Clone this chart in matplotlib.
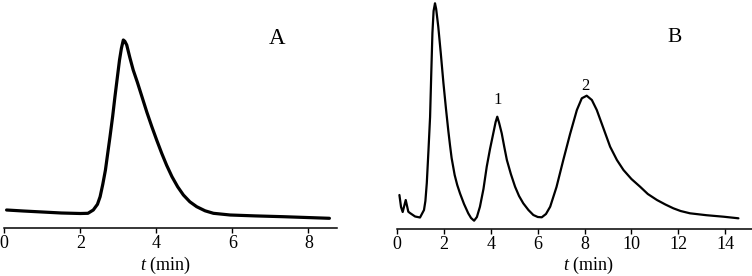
import matplotlib
matplotlib.use("Agg")
import matplotlib.pyplot as plt

# ---- data (retention time in min, detector signal in arbitrary units) ----
t_a = [0.06, 0.5, 1.0, 1.5, 2.0, 2.2, 2.34, 2.45, 2.52, 2.59, 2.66, 2.72, 2.78, 2.85,
       2.91, 2.97, 3.03, 3.08, 3.13, 3.17, 3.22, 3.30, 3.39, 3.5, 3.62, 3.75, 3.88,
       4.01, 4.14, 4.27, 4.41, 4.56, 4.71, 4.88, 5.06, 5.28, 5.5, 5.94, 6.6, 7.34, 8.55]
sig_a = [18.3, 17.3, 16.3, 15.3, 14.8, 15.0, 18.3, 24.0, 31.6, 44.0, 58.3, 75.0, 91.6, 112.0,
         131.6, 150.0, 168.3, 180.0, 188.3, 187.0, 183.3, 171.0, 158.3, 146.0, 131.6, 116.0,
         101.6, 88.0, 75.0, 63.0, 51.6, 41.5, 33.3, 26.5, 21.6, 17.5, 15.0, 13.3, 12.4,
         11.6, 10.0]

t_b = [0.09, 0.16, 0.23, 0.36, 0.47, 0.54, 0.76, 0.97, 1.14, 1.20, 1.26, 1.33, 1.40,
       1.45, 1.50, 1.55, 1.61, 1.66, 1.75, 1.86, 1.97, 2.08, 2.18, 2.25, 2.32, 2.45,
       2.56, 2.68, 2.85, 3.03, 3.15, 3.28, 3.4, 3.53, 3.68, 3.82, 3.96, 4.10, 4.2, 4.27,
       4.35, 4.46, 4.57, 4.68, 4.85, 5.03, 5.2, 5.38, 5.6, 5.81, 6.0, 6.17, 6.35, 6.53,
       6.8, 7.09, 7.38, 7.67, 7.88, 8.09, 8.31, 8.52, 8.8, 9.09, 9.38, 9.66, 10.0, 10.37,
       10.7, 11.09, 11.45, 11.79, 12.1, 12.5, 13.2, 13.93, 14.57]
sig_b = [34.0, 22.0, 17.0, 29.0, 17.3, 16.0, 12.5, 11.5, 19.0, 28.0, 46.0, 78.0, 112.0,
         155.0, 196.0, 218.0, 225.7, 220.0, 202.3, 175.0, 146.0, 120.0, 98.0, 84.0, 71.0,
         54.0, 44.0, 35.5, 25.0, 15.7, 11.0, 8.3, 12.0, 22.3, 40.0, 62.3, 80.0, 95.7,
         107.0, 112.3, 106.0, 95.7, 82.0, 69.0, 55.0, 42.3, 33.0, 25.7, 19.0, 14.0, 12.0,
         11.7, 15.0, 22.3, 42.0, 69.0, 95.0, 119.0, 130.7, 133.3, 129.0, 119.0, 101.0,
         82.3, 69.0, 59.0, 50.0, 42.3, 35.0, 29.0, 24.5, 20.7, 18.0, 15.7, 13.8, 12.3, 10.7]

ticks_a = [0, 2, 4, 6, 8]
ticks_b = [0, 2, 4, 6, 8, 10, 12, 14]
peak_labels = ["1", "2"]
peak_t = [4.28, 8.05]
peak_sig = [112.3, 133.3]
label_offsets_pt = [6.5, 1.0]

W, H = 752, 276
plt.rcParams['font.family'] = ['Liberation Serif', 'DejaVu Serif']
plt.rcParams['mathtext.fontset'] = 'custom'
plt.rcParams['mathtext.it'] = 'Liberation Serif:italic'
plt.rcParams['mathtext.rm'] = 'Liberation Serif'
fig = plt.figure(figsize=(W / 100, H / 100), dpi=100)


def make_ax(x0, x1, yaxis, xmax):
    ax = fig.add_axes([x0 / W, (H - yaxis) / H, (x1 - x0) / W, yaxis / H])
    ax.set_xlim(0, xmax)
    ax.set_ylim(0, yaxis)
    for s in ['top', 'right', 'left']:
        ax.spines[s].set_visible(False)
    ax.spines['bottom'].set_linewidth(1.1)
    ax.set_yticks([])
    ax.tick_params(axis='x', direction='out', length=3.5, width=1.0, pad=1.5,
                   labelsize=13)
    ax.patch.set_alpha(0)
    return ax


axA = make_ax(4.3, 337, 228.3, 8.75)
axA.plot(t_a, sig_a, color='black', lw=2.3, solid_joinstyle='round',
         solid_capstyle='round', clip_on=False)
axA.set_xticks(ticks_a)
axA.set_xlabel(r'$t$ (min)', fontsize=13, va='center')
axA.xaxis.set_label_coords(0.483, -0.161)
fig.text(277 / W, 1 - 39 / H, 'A', fontsize=16.5, ha='center', va='center')

axB = make_ax(397.3, 752, 229, 15.15)
axB.plot(t_b, sig_b, color='black', lw=1.6, solid_joinstyle='round',
         solid_capstyle='round', clip_on=False)
axB.set_xticks(ticks_b)
axB.set_xlabel(r'$t$ (min)', fontsize=13, va='center')
axB.xaxis.set_label_coords(0.538, -0.157)
fig.text(675 / W, 1 - 38 / H, 'B', fontsize=15.5, ha='center', va='center')
for lab, tx, sy, off in zip(peak_labels, peak_t, peak_sig, label_offsets_pt):
    axB.annotate(lab, (tx, sy), xytext=(0, off), textcoords='offset points',
                 ha='center', va='bottom', fontsize=12)

fig.savefig('out.png', dpi=100)
